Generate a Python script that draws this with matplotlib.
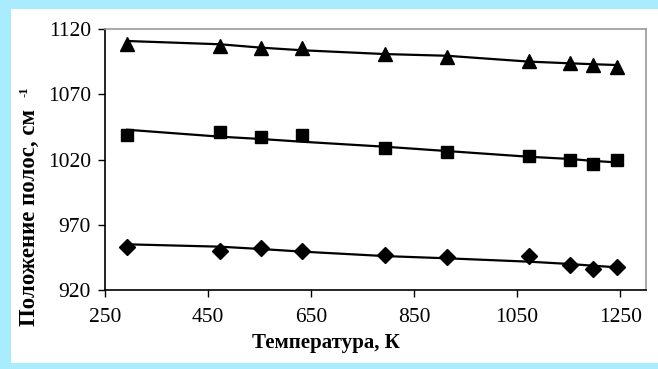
import numpy as np
import matplotlib.pyplot as plt
from matplotlib.patches import Rectangle

# temperature, K
temps = [293, 473, 553, 633, 793, 913, 1073, 1153, 1198, 1243]

# measured band positions, cm-1
band_hi = [1108.3, 1106.8, 1105.2, 1105.4, 1100.7, 1098.8, 1095.5, 1094.0, 1092.4, 1090.6]
band_mid = [1039.0, 1040.7, 1037.5, 1039.0, 1029.0, 1026.0, 1022.7, 1019.6, 1016.6, 1019.9]
band_lo = [953.2, 950.1, 951.9, 950.0, 947.0, 945.2, 945.9, 939.4, 936.3, 937.5]

# trend lines
trend_hi = [1110.8, 1108.3, 1105.7, 1103.7, 1100.8, 1099.5, 1095.0, 1093.7, 1093.0, 1092.4]
trend_mid = [1042.8, 1037.5, 1035.7, 1033.6, 1029.8, 1026.5, 1022.1, 1020.4, 1018.9, 1017.8]
trend_lo = [955.0, 953.2, 951.4, 949.4, 946.0, 944.3, 941.7, 939.9, 938.6, 937.4]

x_ticks = [250, 450, 650, 850, 1050, 1250]
y_ticks = [920, 970, 1020, 1070, 1120]

plt.rcParams['font.family'] = ['Liberation Serif', 'DejaVu Serif']

W, H = 658, 369
fig = plt.figure(figsize=(W / 100, H / 100), dpi=100)
fig.patch.set_facecolor('#A8ECFD')
# white panel
fig.patches.append(Rectangle((11 / W, 6 / H), 1 - 11 / W, (363 - 9) / H,
                             transform=fig.transFigure, facecolor='white',
                             edgecolor='none', zorder=-1))

ax = fig.add_axes([105 / W, 1 - 290 / H, (646 - 105) / W, (290 - 29) / H])
ax.set_facecolor('white')

ax.plot(temps, trend_hi, color='black', lw=1.6, zorder=2)
ax.plot(temps, trend_mid, color='black', lw=1.6, zorder=2)
ax.plot(temps, trend_lo, color='black', lw=1.6, zorder=2)

ax.plot(temps, band_hi, ls='none', marker='^', ms=10.5, color='black', zorder=3)
ax.plot(temps, band_mid, ls='none', marker='s', ms=9, color='black', zorder=3)
ax.plot(temps, band_lo, ls='none', marker='D', ms=8, color='black', zorder=3)

ax.set_xlim(250, 1300)
ax.set_ylim(920, 1120)
ax.set_xticks(x_ticks)
ax.set_yticks(y_ticks)
ax.tick_params(direction='out', length=5, width=1, labelsize=15.5, color='black')
ax.tick_params(axis='x', pad=8)
ax.tick_params(axis='y', pad=5)

for s in ['left', 'bottom']:
    ax.spines[s].set_color('black')
    ax.spines[s].set_linewidth(1.2)
for s in ['top', 'right']:
    ax.spines[s].set_color('#9A9A9A')
    ax.spines[s].set_linewidth(1.2)

fig.text(326 / W, 1 - 343 / H, 'Температура, К', ha='center', va='center',
         fontsize=15, fontweight='bold')
fig.text(29 / W, 1 - 218 / H, 'Положение полос, см',
         rotation=90, ha='center', va='center', fontsize=16.5, fontweight='bold')
fig.text(25 / W, 1 - 92 / H, '-1', rotation=90, ha='center', va='center',
         fontsize=9, fontweight='bold')

fig.savefig('out.png', dpi=100, facecolor=fig.get_facecolor())
